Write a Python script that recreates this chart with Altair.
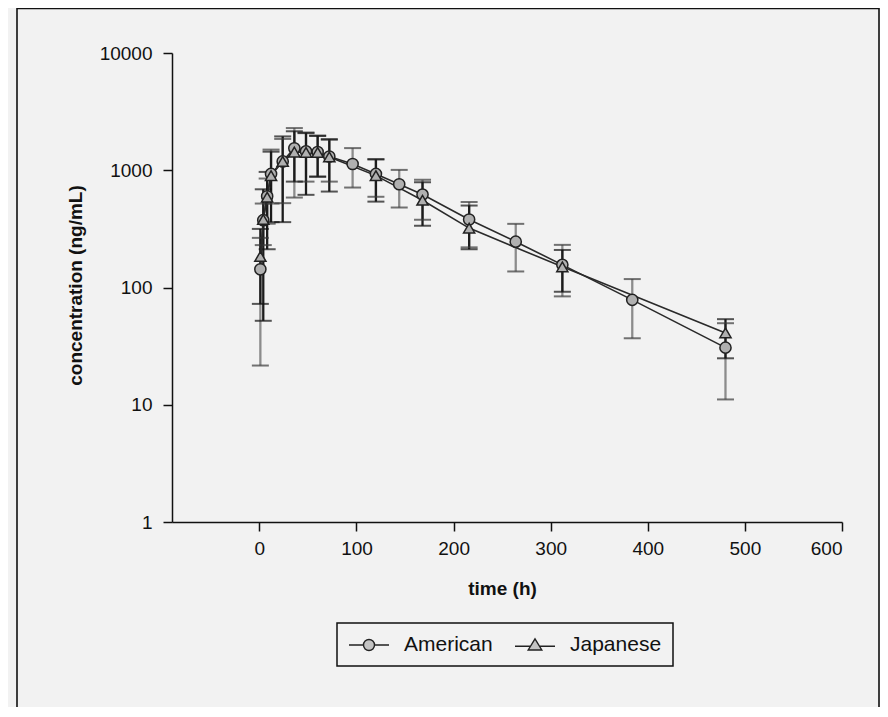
import altair as alt
import pandas as pd

# ---- data (time in h, concentration in ng/mL) ----
groups = ["American", "Japanese"]

am_t = [1, 4, 8, 12, 24, 36, 48, 60, 72, 96, 120, 144, 168, 216, 264, 312, 384, 480]
am_mean = [143, 375, 600, 930, 1190, 1540, 1450, 1430, 1310, 1130, 930, 760, 620, 380, 246, 156, 78.4, 30.7]
am_lo = [21.6, 230, 350, 520, 524, 585, 800, 884, 800, 712, 594, 481, 378, 220, 137, 84, 36.9, 11.1]
am_hi = [265, 520, 850, 1500, 1850, 2290, 2100, 1980, 1820, 1545, 1240, 1007, 828, 536, 349, 231, 118, 49.6]

jp_t = [1, 4, 8, 12, 24, 36, 48, 60, 72, 120, 168, 216, 312, 480]
jp_mean = [184, 380, 590, 900, 1190, 1430, 1420, 1420, 1300, 900, 555, 321, 150, 41]
jp_lo = [72.5, 52, 212, 361, 361, 800, 617, 880, 658, 540, 336, 212, 92, 24.9]
jp_hi = [316, 688, 968, 1440, 1944, 2150, 2073, 1960, 1842, 1240, 790, 500, 209, 53.7]

y_ticks = [1, 10, 100, 1000, 10000]
x_ticks = [0, 100, 200, 300, 400, 500, 600]

rows = []
for g, ts, ms, los, his in [
    ("American", am_t, am_mean, am_lo, am_hi),
    ("Japanese", jp_t, jp_mean, jp_lo, jp_hi),
]:
    for t, m, lo, hi in zip(ts, ms, los, his):
        rows.append({"group": g, "t": t, "mean": m, "lo": lo, "hi": hi})
df = pd.DataFrame(rows)

FONT = "Liberation Sans"
BG = "#f2f2f2"

xs = alt.Scale(domain=[-90, 600], nice=False, zero=False)
ys = alt.Scale(type="log", domain=[1, 10000], nice=False)

x_enc = alt.X(
    "t:Q",
    scale=xs,
    axis=alt.Axis(
        values=x_ticks,
        title="time (h)",
        titleX=330,
        titleY=66,
        titleAlign="center",
        titleBaseline="middle",
        labelPadding=8,
    ),
)
y_axis = alt.Axis(
    values=y_ticks,
    format="d",
    title="concentration (ng/mL)",
    titleX=-97,
    titleY=232,
    titleAngle=-90,
    titleAlign="center",
    titleBaseline="middle",
    labelPadding=11,
)

base = alt.Chart(df)

bar_color = alt.Color(
    "group:N",
    scale=alt.Scale(domain=groups, range=["#8c8c8c", "#1c1c1c"]),
    legend=None,
)
cap_color = alt.Color(
    "group:N",
    scale=alt.Scale(domain=groups, range=["#3a3a3a", "#111111"]),
    legend=None,
)

bars = base.mark_rule(strokeWidth=2.3).encode(
    x=x_enc,
    y=alt.Y("lo:Q", scale=ys, axis=y_axis),
    y2="hi:Q",
    color=bar_color,
)
caps_lo = base.mark_tick(orient="horizontal", size=17, thickness=2).encode(
    x="t:Q", y=alt.Y("lo:Q", scale=ys), color=cap_color
)
caps_hi = base.mark_tick(orient="horizontal", size=17, thickness=2).encode(
    x="t:Q", y=alt.Y("hi:Q", scale=ys), color=cap_color
)

lines = base.mark_line(color="#2a2a2a", strokeWidth=1.6).encode(
    x="t:Q", y=alt.Y("mean:Q", scale=ys), detail="group:N", order="t:Q"
)

points = base.mark_point(
    filled=True, fill="#b0b0b0", stroke="#222222", strokeWidth=1.5, size=125, opacity=1
).encode(
    x="t:Q",
    y=alt.Y("mean:Q", scale=ys),
    shape=alt.Shape(
        "group:N",
        scale=alt.Scale(domain=groups, range=["circle", "triangle-up"]),
        legend=None,
    ),
)

legend_paths = [
    "M-1,0H0.45M1.55,0H3M1.55,0A0.55,0.55,0,1,1,0.45,0A0.55,0.55,0,1,1,1.55,0",
    "M-1,0.12H0.5M1.5,0.12H3M1,-0.62L1.68,0.5L0.32,0.5Z",
]
legend_layer = (
    base.transform_filter("false")
    .transform_calculate(lg="datum.group")
    .mark_point(
        filled=False,
        fill="#c4c4c4",
        stroke="#222222",
        strokeWidth=1.4,
        strokeOpacity=1,
        fillOpacity=1,
        opacity=1,
    )
    .encode(
        x="t:Q",
        y=alt.Y("mean:Q", scale=ys),
        shape=alt.Shape(
            "lg:N",
            scale=alt.Scale(domain=groups, range=legend_paths),
            legend=alt.Legend(
                title=None,
                orient="none",
                direction="horizontal",
                legendX=165,
                legendY=570,
                padding=11,
                strokeColor="#111111",
                fillColor=BG,
                symbolSize=400,
                symbolStrokeWidth=1.4,
                labelOffset=34,
                columnPadding=19,
                labelFont=FONT,
                labelFontSize=21,
                labelColor="#111111",
            ),
        ),
    )
)

frame = (
    alt.Chart(alt.Data(values=[{"k": 1}]))
    .mark_rect(fillOpacity=0, stroke="#111111", strokeWidth=1.6)
    .encode(
        x=alt.value(-155),
        x2=alt.value(707),
        y=alt.value(-44.5),
        y2=alt.value(720),
    )
)

chart = (
    alt.layer(frame, bars, caps_lo, caps_hi, lines, points, legend_layer)
    .resolve_scale(shape="independent", color="independent")
    .properties(
        width=670,
        height=469,
        autosize=alt.AutoSizeParams(type="none"),
        padding={"left": 164, "top": 45, "right": 38, "bottom": 185},
        background=BG,
    )
    .configure_view(stroke=None)
    .configure_axis(
        grid=False,
        domainColor="#111111",
        domainWidth=1.5,
        tickColor="#111111",
        tickWidth=1.5,
        tickSize=9,
        labelFont=FONT,
        labelFontSize=19,
        labelColor="#111111",
        titleFont=FONT,
        titleFontSize=19,
        titleFontWeight="bold",
        titleColor="#111111",
    )
    .configure_legend(strokeWidth=1.5)
)

chart.save("out.html", embed_options={"renderer": "svg", "actions": False})
